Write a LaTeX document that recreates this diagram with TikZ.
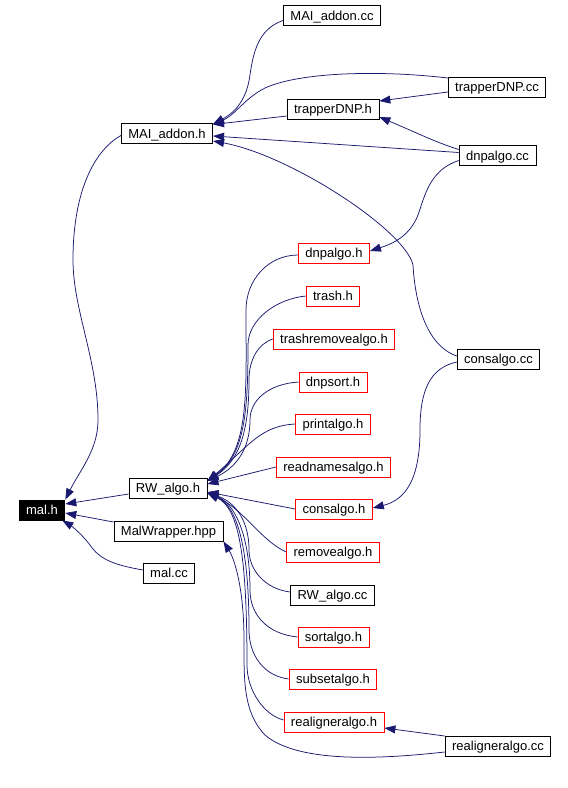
\documentclass[tikz,border=0pt]{standalone}
\usepackage{fontspec}
\setmainfont{Liberation Sans}
\usepackage{tikz}
\usetikzlibrary{arrows.meta, calc}
\definecolor{inclblue}{RGB}{25,25,112}

\tikzset{
  filebox/.style={draw=black, line width=0.8pt, fill=white, inner xsep=7pt, inner ysep=0pt,
    minimum height=20pt, text height=10pt, text depth=0.5pt, font=\fontsize{13}{15}\selectfont},
  redbox/.style={filebox, draw=red},
  rootbox/.style={filebox, fill=black, text=white},
  incl/.style={draw=inclblue, line width=0.75pt, -{Triangle[length=11pt,width=8pt]}},
}

\begin{document}
\begin{tikzpicture}[x=1pt, y=-1pt]
  \useasboundingbox (0,0) rectangle (568,788);

  % left column
  \node[rootbox] (malh) at (42,510) {mal.h};
  \node[filebox] (maiaddonh) at (167,133.5) {MAI\_addon.h};
  \node[filebox] (rwalgoh) at (168,488) {RW\_algo.h};
  \node[filebox] (malwrapper) at (168.5,531) {MalWrapper.hpp};
  \node[filebox] (malcc) at (169,573) {mal.cc};

  % middle column
  \node[filebox] (maiaddoncc) at (332,15.5) {MAI\_addon.cc};
  \node[filebox] (trapperdnph) at (333,109) {trapperDNP.h};
  \node[redbox] (dnpalgoh) at (334,253) {dnpalgo.h};
  \node[redbox] (trashh) at (333,296) {trash.h};
  \node[redbox] (trashremove) at (334,339) {trashremovealgo.h};
  \node[redbox] (dnpsort) at (333,382) {dnpsort.h};
  \node[redbox] (printalgo) at (333,424) {printalgo.h};
  \node[redbox] (readnames) at (333.5,467) {readnamesalgo.h};
  \node[redbox] (consalgoh) at (334,509) {consalgo.h};
  \node[redbox] (removealgo) at (333,552) {removealgo.h};
  \node[filebox] (rwalgocc) at (332.5,595) {RW\_algo.cc};
  \node[redbox] (sortalgo) at (333.5,637) {sortalgo.h};
  \node[redbox] (subsetalgo) at (333,679) {subsetalgo.h};
  \node[redbox] (realignerh) at (334,722) {realigneralgo.h};

  % right column
  \node[filebox] (trapperdnpcc) at (497,87) {trapperDNP.cc};
  \node[filebox] (dnpalgocc) at (497.5,155.5) {dnpalgo.cc};
  \node[filebox] (consalgocc) at (498.5,359) {consalgo.cc};
  \node[filebox] (realignercc) at (498,746) {realigneralgo.cc};

  % into MAI_addon.h
  \draw[incl] ($(maiaddoncc.west)+(0,5)$) .. controls (262,28) and (254,45) .. (250,75)
    .. controls (246,105) and (230,115) .. ($(maiaddonh.east)+(0,-9.5)$);
  \draw[incl] ($(trapperdnpcc.west)+(0,-9)$) .. controls (380,70) and (300,72) .. (265,88)
    .. controls (245,98) and (235,115) .. ($(maiaddonh.east)+(0,-9)$);
  \draw[incl] ($(trapperdnph.west)+(0,7)$) -- ($(maiaddonh.east)+(0,-9)$);
  \draw[incl] ($(dnpalgocc.west)+(0,-3)$) -- ($(maiaddonh.east)+(0,2.5)$);
  \draw[incl] ($(consalgocc.west)+(0,-3)$) .. controls (425,345) and (415,300) .. (413,265)
    .. controls (405,230) and (290,155) .. ($(maiaddonh.east)+(0,7.5)$);

  % right column into middle column
  \draw[incl] ($(trapperdnpcc.west)+(0,5)$) -- ($(trapperdnph.east)+(0,-8)$);
  \draw[incl] ($(dnpalgocc.west)+(0,-6)$) .. controls (435,142) and (415,132) .. ($(trapperdnph.east)+(0,8)$);
  \draw[incl] ($(dnpalgocc.west)+(0,5)$) .. controls (430,170) and (425,195) .. (418,215)
    .. controls (410,235) and (395,243) .. ($(dnpalgoh.east)+(0,-2)$);
  \draw[incl] ($(consalgocc.west)+(0,3)$) .. controls (430,368) and (420,390) .. (420,430)
    .. controls (420,480) and (405,500) .. ($(consalgoh.east)+(0,-1)$);
  \draw[incl] ($(realignercc.west)+(0,-10)$) -- ($(realignerh.east)+(0,6)$);
  \draw[incl] ($(realignercc.west)+(0,6)$) .. controls (390,758) and (300,765) .. (265,735)
    .. controls (243,712) and (244,680) .. (244,640)
    .. controls (244,590) and (235,560) .. (malwrapper.south east);

  % into RW_algo.h, upper bundle
  \draw[incl] ($(dnpalgoh.west)+(0,2)$) .. controls +(-30,0) and +(0,-30) .. (246,310)
    .. controls (246,390) and (250,450) .. ($(rwalgoh.east)+(0,-7)$);
  \draw[incl] (trashh.west) .. controls +(-30,3) and +(0,-25) .. (248,345)
    .. controls (248,410) and (245,455) .. ($(rwalgoh.east)+(0,-7)$);
  \draw[incl] (trashremove.west) .. controls +(-15,5) and +(0,-20) .. (249,380)
    .. controls (249,430) and (240,460) .. ($(rwalgoh.east)+(0,-7)$);
  \draw[incl] (dnpsort.west) .. controls +(-30,2) and +(0,-20) .. (250,420)
    .. controls (250,450) and (235,468) .. ($(rwalgoh.east)+(0,-7)$);
  \draw[incl] (printalgo.west) .. controls +(-35,2) and (250,445) .. ($(rwalgoh.east)+(0,-7)$);
  \draw[incl] (readnames.west) -- ($(rwalgoh.east)+(0,-4)$);
  \draw[incl] (consalgoh.west) -- ($(rwalgoh.east)+(0,4)$);

  % into RW_algo.h, lower bundle
  \draw[incl] (removealgo.west) .. controls (260,540) and (245,510) .. ($(rwalgoh.east)+(0,5)$);
  \draw[incl] ($(rwalgocc.west)+(0,-3)$) .. controls +(-25,-3) and +(0,20) .. (249,550)
    .. controls (249,515) and (230,500) .. ($(rwalgoh.east)+(0,5)$);
  \draw[incl] (sortalgo.west) .. controls +(-30,-3) and +(0,25) .. (250,590)
    .. controls (250,530) and (232,502) .. ($(rwalgoh.east)+(0,5)$);
  \draw[incl] (subsetalgo.west) .. controls +(-25,-3) and +(0,25) .. (249,630)
    .. controls (249,540) and (235,505) .. ($(rwalgoh.east)+(0,5)$);
  \draw[incl] ($(realignerh.west)+(0,-2)$) .. controls +(-20,-5) and +(0,25) .. (247,665)
    .. controls (247,550) and (238,508) .. ($(rwalgoh.east)+(0,5)$);

  % into mal.h
  \draw[incl] ($(maiaddonh.west)+(0,2)$) .. controls (95,150) and (73,190) .. (73,260)
    .. controls (73,310) and (98,360) .. (98,420)
    .. controls (98,450) and (80,470) .. (malh.north east);
  \draw[incl] ($(rwalgoh.west)+(0,6)$) -- ($(malh.east)+(0,-6)$);
  \draw[incl] ($(malwrapper.west)+(0,-9)$) -- ($(malh.east)+(0,3)$);
  \draw[incl] ($(malcc.west)+(0,-3)$) .. controls (115,565) and (100,560) .. (90,545)
    .. controls (80,532) and (70,525) .. ($(malh.south east)+(-3,0)$);
\end{tikzpicture}
\end{document}
